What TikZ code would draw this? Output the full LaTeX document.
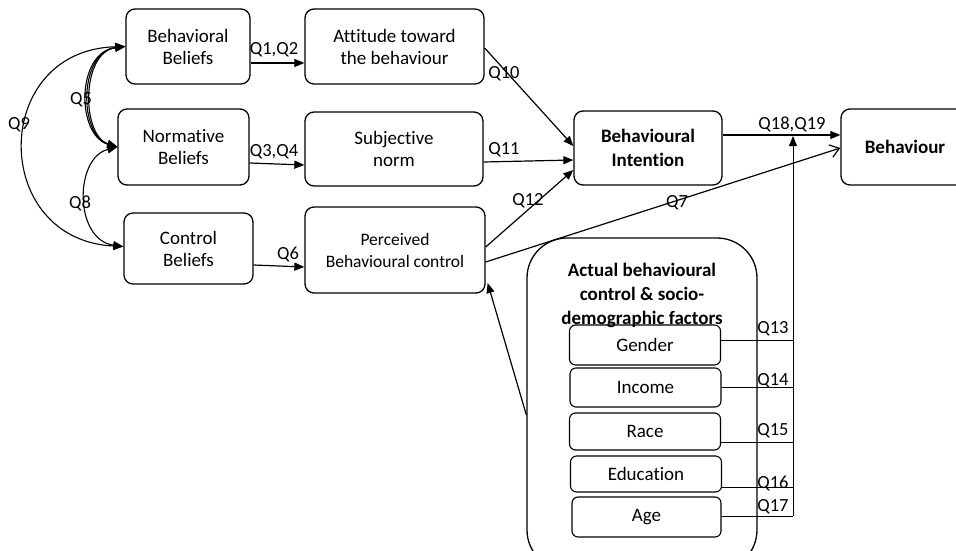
\documentclass[tikz,border=0pt]{standalone}
\usepackage{fontspec}
\setmainfont{Carlito}[Ligatures={NoCommon,NoRequired,NoContextual}]
\usetikzlibrary{arrows.meta}
\begin{document}
\begin{tikzpicture}[x=1pt,y=-1pt,
  box/.style={draw, line width=1.3pt, rounded corners=9pt, align=center,
    inner sep=0pt, font=\fontsize{19}{22}\selectfont},
  sbox/.style={draw, line width=1.1pt, rounded corners=6pt, align=center,
    inner sep=0pt, minimum width=151pt, font=\fontsize{19}{22}\selectfont},
  lab/.style={font=\fontsize{18.5}{20}\selectfont, inner sep=0pt},
  conn/.style={line width=1.2pt, -{Triangle[length=10pt,width=8pt]}},
  both/.style={line width=1.1pt, {Triangle[length=10pt,width=8pt]}-{Triangle[length=10pt,width=8pt]}},
  feed/.style={line width=0.8pt}]
\clip (0,0) rectangle (956,551);

% belief boxes
\node[box, minimum width=124pt, minimum height=75pt] (bb) at (188,46.5) {Behavioral\\Beliefs};
\node[box, minimum width=131pt, minimum height=76pt] (nb) at (183.5,147) {Normative\\Beliefs};
\node[box, minimum width=129pt, minimum height=71pt] (cb) at (188.5,248.5) {Control\\Beliefs};

% construct boxes
\node[box, minimum width=179pt, minimum height=75pt] (att) at (394.5,46.5) {Attitude toward\\the behaviour};
\node[box, minimum width=178pt, minimum height=74pt] (subj) at (394,149) {Subjective\\norm};
\node[box, minimum width=180pt, minimum height=86pt, font=\fontsize{17.5}{22}\selectfont] (perc) at (395,250) {Perceived\\Behavioural control};

\node[box, minimum width=148pt, minimum height=74pt, font=\bfseries\fontsize{19}{24}\selectfont] (bi) at (648,148) {Behavioural\\Intention};
\node[box, minimum width=128pt, minimum height=76pt, font=\bfseries\fontsize{19}{24}\selectfont] (beh) at (905,147) {Behaviour};

% actual control container
\node[draw, line width=1.3pt, rounded corners=40pt, minimum width=230pt, minimum height=332pt] (actual) at (642,404) {};
\node[align=center, inner sep=0pt, font=\bfseries\fontsize{19}{24}\selectfont] (actualtitle) at (642,295) {Actual behavioural\\control \& socio-\\demographic factors};

\node[sbox, minimum height=40pt] (gender) at (645,345) {Gender};
\node[sbox, minimum height=39pt] (income) at (645.5,387.5) {Income};
\node[sbox, minimum height=37pt] (race) at (645,431.5) {Race};
\node[sbox, minimum height=36pt] (edu) at (646,474) {Education};
\node[sbox, minimum height=40pt, minimum width=149pt] (age) at (646.5,517) {Age};

% feed-in bus on the right
\coordinate (j13) at (793,340);
\coordinate (j14) at (793,387);
\coordinate (j15) at (793,442);
\coordinate (j16) at (793,487);
\coordinate (j17) at (793,516);
\coordinate (jtop) at (793,136);

\draw[feed] (gender.east |- j13) -- (j13);
\draw[feed] (income.east |- j14) -- (j14);
\draw[feed] (race.east |- j15) -- (j15);
\draw[feed] (edu.east |- j16) -- (j16);
\draw[feed] (age.east |- j17) -- (j17);
\draw[line width=1pt, -{Triangle[length=10pt,width=8pt]}] (j17) -- (jtop);

\node[lab] (q13) at (773,329) {Q13};
\node[lab] (q14) at (773,381) {Q14};
\node[lab] (q15) at (773,431) {Q15};
\node[lab] (q16) at (773,483) {Q16};
\node[lab] (q17) at (773,507) {Q17};

% belief to construct arrows
\draw[conn] ([yshift=-16.5pt]bb.east) -- ([yshift=-16.5pt]att.west);
\draw[conn] ([yshift=-16pt]nb.east) -- ([yshift=-16pt]subj.west);
\draw[conn] ([yshift=-16.5pt]cb.east) -- ([yshift=-17pt]perc.west);
\node[lab] (q12a) at (274,50) {Q1,Q2};
\node[lab] (q34) at (274,152) {Q3,Q4};
\node[lab] (q6) at (288,254) {Q6};

% construct to intention arrows
\draw[conn] ([yshift=-1.5pt]att.east) -- ([yshift=2pt]bi.west);
\draw[conn] ([yshift=-13pt]subj.east) -- ([yshift=-12pt]bi.west);
\draw[conn] ([yshift=3pt]perc.east) -- ([yshift=-22pt]bi.west);
\node[lab] (q10) at (504,74) {Q10};
\node[lab] (q11) at (504,150) {Q11};
\node[lab] (q12) at (528,201) {Q12};

% to behaviour
\draw[conn] ([yshift=13pt]bi.east) -- ([yshift=12pt]beh.west);
\draw[line width=1.2pt, -{Straight Barb[length=9pt,width=13pt]}] ([yshift=-12pt]perc.east) -- ([yshift=-1pt]beh.west);
\node[lab] (q1819) at (792,124) {Q18,Q19};
\node[lab] (q7) at (677,203) {Q7};

% actual control feeding perceived control
\draw[conn] ([yshift=-11pt]actual.west) -- ([yshift=-33pt,xshift=2pt]perc.east);

% correlations among beliefs
\draw[both] (bb.west) .. controls (76,52) and (76,135) .. (nb.west);
\draw[both] (bb.west) .. controls (78.5,52) and (78.5,135) .. (nb.west);
\draw[both] (bb.west) .. controls (81,52) and (81,135) .. (nb.west);
\draw[both] (nb.west) .. controls (74,158) and (74,240) .. ([yshift=2pt]cb.west);
\draw[both] (bb.west) .. controls (-10,50) and (-10,240) .. ([yshift=2pt]cb.west);
\node[lab] (q5) at (81,100) {Q5};
\node[lab] (q9) at (19,125) {Q9};
\node[lab] (q8) at (80,203) {Q8};
\end{tikzpicture}
\end{document}
